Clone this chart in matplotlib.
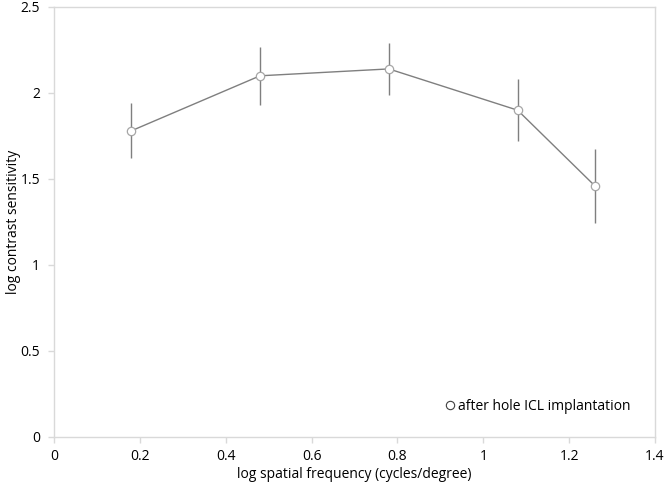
import matplotlib
matplotlib.use("Agg")
import matplotlib.pyplot as plt
from matplotlib.lines import Line2D

# values
spatial_freq = [0.18, 0.48, 0.78, 1.08, 1.26]
sensitivity = [1.78, 2.10, 2.14, 1.90, 1.46]
sens_err = [0.16, 0.17, 0.15, 0.18, 0.215]

x_ticks = [0, 0.2, 0.4, 0.6, 0.8, 1, 1.2, 1.4]
x_labels = ["0", "0.2", "0.4", "0.6", "0.8", "1", "1.2", "1.4"]
y_ticks = [0, 0.5, 1, 1.5, 2, 2.5]
y_labels = ["0", "0.5", "1", "1.5", "2", "2.5"]

plt.rcParams["font.family"] = ["Open Sans", "DejaVu Sans"]

fig = plt.figure(figsize=(6.66, 4.88), dpi=100)
ax = fig.add_axes([54 / 666, 1 - 437 / 488, (655 - 54) / 666, (437 - 7) / 488])

line_col = "#7f7f7f"
ax.errorbar(spatial_freq, sensitivity, yerr=sens_err, color=line_col, lw=1.0,
            elinewidth=1.0, capsize=0, marker="o", markersize=6,
            markerfacecolor="white", markeredgecolor="#a6a6a6", markeredgewidth=0.9)

ax.set_xlim(0, 1.4)
ax.set_ylim(0, 2.5)
ax.set_xticks(x_ticks)
ax.set_xticklabels(x_labels)
ax.set_yticks(y_ticks)
ax.set_yticklabels(y_labels)

for s in ax.spines.values():
    s.set_color("#d9d9d9")
    s.set_linewidth(1.0)
ax.tick_params(colors="#d9d9d9", labelcolor="black", labelsize=10, length=4, width=1)
ax.tick_params(axis="x", pad=5)
ax.tick_params(axis="y", pad=6)

ax.set_xlabel("log spatial frequency (cycles/degree)", fontsize=10, labelpad=2)
ax.set_ylabel("log contrast sensitivity", fontsize=10)
ax.yaxis.set_label_coords(-33 / 601, 0.5)

handle = Line2D([], [], ls="none", marker="o", markersize=6, markerfacecolor="white",
                markeredgecolor="#404040", markeredgewidth=0.8)
ax.legend([handle], ["after hole ICL implantation"], loc="lower right", frameon=False,
          fontsize=10, handlelength=0.6, handletextpad=0.3,
          bbox_to_anchor=(0.98, 0.025))

fig.savefig("out.png", dpi=100)
